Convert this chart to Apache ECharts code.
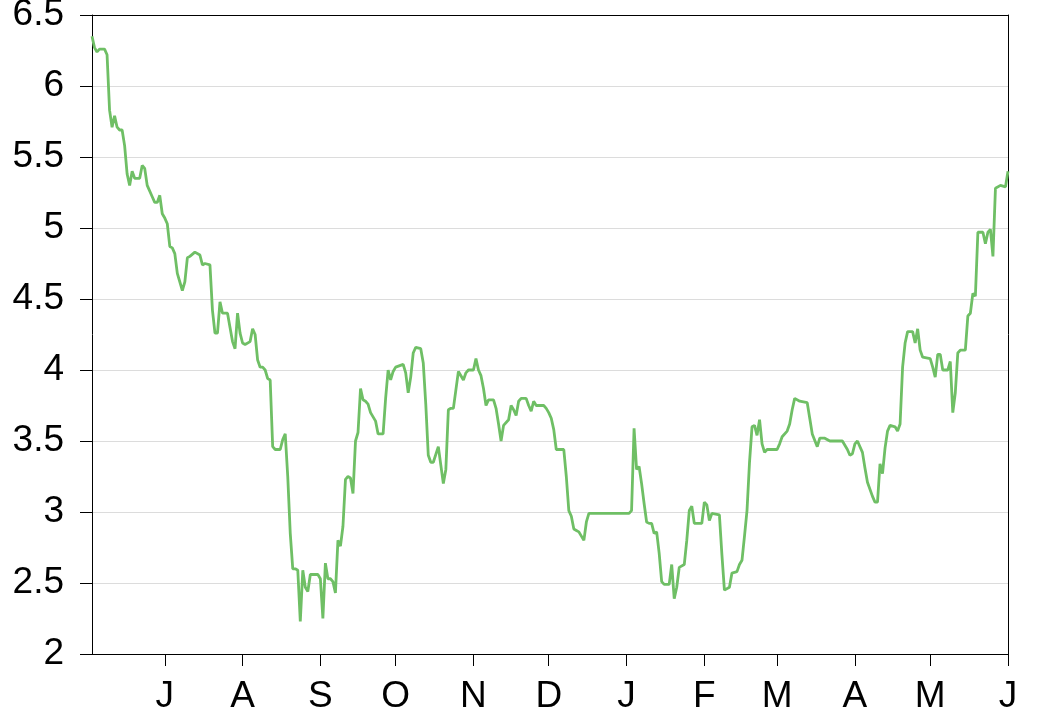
<!DOCTYPE html>
<html>
<head>
<meta charset="utf-8">
<script src="https://cdn.jsdelivr.net/npm/echarts@6/dist/echarts.min.js"></script>
<style>
html,body{margin:0;padding:0;background:#fff;}
#chart{width:1040px;height:708px;}
</style>
</head>
<body>
<div id="chart"></div>
<script>
var axisStart = '2015-06-02';
var axisEnd = '2016-06-01';
var tickDates = ['2015-07-01','2015-08-01','2015-09-01','2015-10-01','2015-11-01','2015-12-01','2016-01-01','2016-02-01','2016-03-01','2016-04-01','2016-05-01','2016-06-01'];
var tickLabels = ['J','A','S','O','N','D','J','F','M','A','M','J'];
var yTicks = [2, 2.5, 3, 3.5, 4, 4.5, 5, 5.5, 6, 6.5];

var dates = [
'2015-06-02','2015-06-03','2015-06-04','2015-06-05','2015-06-07','2015-06-08','2015-06-09','2015-06-10','2015-06-11','2015-06-12',
'2015-06-13','2015-06-14','2015-06-15','2015-06-16','2015-06-17','2015-06-18','2015-06-19','2015-06-21','2015-06-22','2015-06-23',
'2015-06-24','2015-06-26','2015-06-27','2015-06-28','2015-06-29','2015-06-30','2015-07-01','2015-07-02','2015-07-03','2015-07-04',
'2015-07-05','2015-07-06','2015-07-08','2015-07-09','2015-07-10','2015-07-11','2015-07-13','2015-07-15','2015-07-16','2015-07-17',
'2015-07-19','2015-07-20','2015-07-21','2015-07-22','2015-07-23','2015-07-24','2015-07-26','2015-07-27','2015-07-28','2015-07-29',
'2015-07-30','2015-07-31','2015-08-01','2015-08-02','2015-08-04','2015-08-05','2015-08-06','2015-08-07','2015-08-08','2015-08-09',
'2015-08-10','2015-08-11','2015-08-12','2015-08-13','2015-08-14','2015-08-16','2015-08-17','2015-08-18','2015-08-19','2015-08-20',
'2015-08-21','2015-08-22','2015-08-23','2015-08-24','2015-08-25','2015-08-26','2015-08-27','2015-08-28','2015-08-31','2015-09-01',
'2015-09-02','2015-09-03','2015-09-04','2015-09-05','2015-09-06','2015-09-07','2015-09-08','2015-09-09','2015-09-10','2015-09-11',
'2015-09-12','2015-09-13','2015-09-14','2015-09-15','2015-09-16','2015-09-17','2015-09-18','2015-09-19','2015-09-20','2015-09-21',
'2015-09-23','2015-09-24','2015-09-26','2015-09-27','2015-09-28','2015-09-29','2015-09-30','2015-10-01','2015-10-04','2015-10-05',
'2015-10-06','2015-10-07','2015-10-08','2015-10-09','2015-10-11','2015-10-12','2015-10-13','2015-10-14','2015-10-15','2015-10-16',
'2015-10-18','2015-10-19','2015-10-20','2015-10-21','2015-10-22','2015-10-23','2015-10-24','2015-10-25','2015-10-26','2015-10-27',
'2015-10-28','2015-10-29','2015-10-30','2015-11-01','2015-11-02','2015-11-03','2015-11-04','2015-11-05','2015-11-06','2015-11-07',
'2015-11-09','2015-11-10','2015-11-11','2015-11-12','2015-11-13','2015-11-15','2015-11-16','2015-11-17','2015-11-18','2015-11-19',
'2015-11-20','2015-11-22','2015-11-23','2015-11-24','2015-11-25','2015-11-26','2015-11-29','2015-11-30','2015-12-01','2015-12-02',
'2015-12-03','2015-12-04','2015-12-07','2015-12-08','2015-12-09','2015-12-10','2015-12-11','2015-12-12','2015-12-13','2015-12-15',
'2015-12-16','2015-12-17','2016-01-02','2016-01-03','2016-01-04','2016-01-05','2016-01-06','2016-01-07','2016-01-08','2016-01-09',
'2016-01-10','2016-01-11','2016-01-12','2016-01-13','2016-01-14','2016-01-15','2016-01-16','2016-01-18','2016-01-19','2016-01-20',
'2016-01-21','2016-01-22','2016-01-24','2016-01-25','2016-01-26','2016-01-27','2016-01-28','2016-01-31','2016-02-01','2016-02-02',
'2016-02-03','2016-02-04','2016-02-07','2016-02-08','2016-02-09','2016-02-11','2016-02-12','2016-02-14','2016-02-15','2016-02-16',
'2016-02-17','2016-02-18','2016-02-19','2016-02-20','2016-02-21','2016-02-22','2016-02-23','2016-02-24','2016-02-25','2016-02-26',
'2016-03-01','2016-03-02','2016-03-03','2016-03-05','2016-03-06','2016-03-07','2016-03-08','2016-03-10','2016-03-13','2016-03-14',
'2016-03-15','2016-03-17','2016-03-18','2016-03-20','2016-03-22','2016-03-27','2016-03-29','2016-03-30','2016-03-31','2016-04-01',
'2016-04-02','2016-04-04','2016-04-05','2016-04-06','2016-04-08','2016-04-09','2016-04-10','2016-04-11','2016-04-12','2016-04-13',
'2016-04-14','2016-04-15','2016-04-17','2016-04-18','2016-04-19','2016-04-20','2016-04-21','2016-04-22','2016-04-24','2016-04-25',
'2016-04-26','2016-04-27','2016-04-28','2016-05-01','2016-05-02','2016-05-03','2016-05-04','2016-05-05','2016-05-06','2016-05-08',
'2016-05-09','2016-05-10','2016-05-11','2016-05-12','2016-05-13','2016-05-15','2016-05-16','2016-05-17','2016-05-18','2016-05-19',
'2016-05-20','2016-05-22','2016-05-23','2016-05-24','2016-05-25','2016-05-26','2016-05-27','2016-05-29','2016-05-31','2016-06-01'
];

var values = [
6.35,6.27,6.24,6.26,6.26,6.22,5.83,5.71,5.79,5.71,
5.69,5.69,5.58,5.38,5.30,5.40,5.35,5.35,5.44,5.42,
5.30,5.22,5.18,5.18,5.23,5.10,5.07,5.03,4.87,4.86,
4.82,4.68,4.56,4.62,4.79,4.80,4.83,4.81,4.74,4.75,
4.74,4.42,4.26,4.26,4.48,4.40,4.40,4.30,4.20,4.15,
4.40,4.26,4.19,4.18,4.20,4.29,4.25,4.07,4.02,4.02,
4.00,3.94,3.93,3.46,3.44,3.44,3.51,3.55,3.25,2.85,
2.60,2.60,2.59,2.23,2.59,2.47,2.44,2.56,2.56,2.53,
2.25,2.64,2.53,2.53,2.51,2.43,2.80,2.76,2.90,3.23,
3.25,3.24,3.13,3.50,3.56,3.87,3.79,3.78,3.76,3.70,
3.64,3.55,3.55,3.80,4.00,3.93,3.99,4.02,4.04,3.98,
3.84,3.95,4.12,4.16,4.15,4.05,3.76,3.40,3.35,3.35,
3.46,3.33,3.20,3.30,3.72,3.73,3.73,3.86,3.99,3.96,
3.93,3.98,4.00,4.00,4.08,4.00,3.96,3.87,3.75,3.79,
3.79,3.73,3.62,3.50,3.61,3.65,3.75,3.72,3.68,3.78,
3.80,3.80,3.75,3.71,3.78,3.75,3.75,3.73,3.70,3.66,
3.58,3.44,3.44,3.25,3.01,2.97,2.88,2.87,2.86,2.80,
2.93,2.99,2.99,3.01,3.59,3.30,3.32,3.20,3.06,2.93,
2.92,2.92,2.85,2.86,2.71,2.51,2.49,2.49,2.63,2.39,
2.47,2.61,2.63,2.80,3.01,3.04,2.92,2.92,3.07,3.05,
2.94,2.99,2.98,2.70,2.45,2.47,2.57,2.58,2.63,2.66,
2.83,3.01,3.35,3.60,3.61,3.54,3.65,3.48,3.42,3.44,
3.44,3.48,3.53,3.57,3.62,3.72,3.80,3.78,3.77,3.66,
3.55,3.46,3.52,3.52,3.50,3.50,3.44,3.40,3.41,3.48,
3.50,3.42,3.31,3.21,3.11,3.07,3.07,3.34,3.27,3.45,
3.57,3.61,3.60,3.57,3.62,4.02,4.19,4.27,4.27,4.19,
4.29,4.14,4.09,4.08,4.02,3.95,4.11,4.11,4.00,4.00,
4.06,3.70,3.84,4.12,4.14,4.14,4.38,4.40,4.54,4.52,
4.97,4.97,4.89,4.97,4.99,4.80,5.28,5.30,5.29,5.40
];

function toTime(s) {
  var p = s.split('-');
  return new Date(+p[0], +p[1] - 1, +p[2]).getTime();
}

var seriesData = dates.map(function (d, i) { return [toTime(d), values[i]]; });
var tickTimes = tickDates.map(toTime);
var labelMap = {};
tickTimes.forEach(function (t, i) { labelMap[t] = tickLabels[i]; });

var FONT = 'Liberation Sans, Arial, Helvetica, sans-serif';

var chart = echarts.init(document.getElementById('chart'), null, { renderer: 'canvas' });
chart.setOption({
  animation: false,
  backgroundColor: '#ffffff',
  grid: { left: 92, right: 32, top: 15, bottom: 54, containLabel: false, outerBoundsMode: 'none' },
  xAxis: [{
    type: 'value',
    min: toTime(axisStart),
    max: toTime(axisEnd),
    scale: true,
    axisLine: { show: true, onZero: false, lineStyle: { color: '#000', width: 1 } },
    axisTick: { show: true, length: 12, lineStyle: { color: '#000', width: 1 }, customValues: tickTimes },
    axisLabel: {
      show: true,
      customValues: tickTimes,
      margin: 24,
      color: '#000',
      fontSize: 37,
      fontFamily: FONT,
      formatter: function (v) { return labelMap[v] || ''; }
    },
    splitLine: { show: false }
  }, {
    type: 'value',
    position: 'top',
    min: toTime(axisStart),
    max: toTime(axisEnd),
    scale: true,
    axisLine: { show: true, onZero: false, lineStyle: { color: '#000', width: 1 } },
    axisTick: { show: false },
    axisLabel: { show: false },
    splitLine: { show: false }
  }],
  yAxis: [{
    type: 'value',
    min: yTicks[0],
    max: yTicks[yTicks.length - 1],
    interval: 0.5,
    axisLine: { show: true, onZero: false, lineStyle: { color: '#000', width: 1 } },
    axisTick: { show: true, length: 12, lineStyle: { color: '#000', width: 1 } },
    axisLabel: {
      margin: 28,
      color: '#000',
      fontSize: 37,
      fontFamily: FONT,
      formatter: function (v) { return String(v); }
    },
    splitLine: { show: true, lineStyle: { color: '#dcdcdc', width: 1 } }
  }, {
    type: 'value',
    position: 'right',
    min: yTicks[0],
    max: yTicks[yTicks.length - 1],
    interval: 0.5,
    axisLine: { show: true, onZero: false, lineStyle: { color: '#000', width: 1 } },
    axisTick: { show: false },
    axisLabel: { show: false },
    splitLine: { show: false }
  }],
  series: [{
    type: 'line',
    xAxisIndex: 0,
    yAxisIndex: 0,
    data: seriesData,
    showSymbol: false,
    symbol: 'none',
    lineStyle: { color: '#6fbf65', width: 2.8 },
    z: 3
  }]
});
</script>
</body>
</html>
